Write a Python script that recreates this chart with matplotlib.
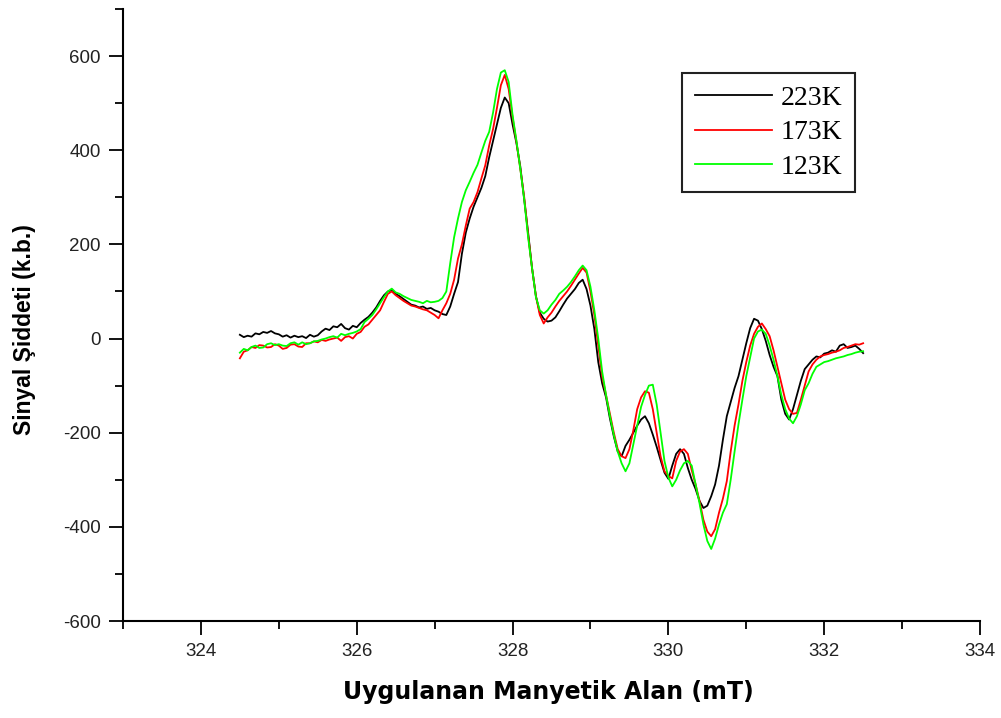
import numpy as np
import matplotlib
matplotlib.use("Agg")
import matplotlib.pyplot as plt
from matplotlib.ticker import MultipleLocator

plt.rcParams["axes.unicode_minus"] = False

# ================================================================
# DATA (0.05 mT step, 324.50 -> 332.50)
# ================================================================
FIELD = np.linspace(324.5, 332.5, 161)

# one row = 1 mT (20 points), last value = 332.50
SIG_223K = [
    8, 3, 6, 4, 11, 9, 14, 12, 16, 11, 9, 4, 7, 2, 6, 3, 5, 1, 8, 4,
    7, 15, 21, 18, 26, 24, 31, 22, 19, 27, 24, 33, 40, 46, 55, 66, 80, 92, 100, 103,
    95, 90, 84, 78, 72, 70, 66, 68, 63, 65, 60, 57, 52, 50, 68, 95, 120, 180, 225, 255,
    280, 300, 320, 345, 385, 420, 455, 490, 512, 500, 455, 415, 365, 295, 225, 150, 90, 55, 42, 36,
    38, 45, 58, 72, 85, 95, 105, 118, 125, 105, 70, 20, -50, -95, -125, -170, -208, -240, -250, -228,
    -215, -200, -185, -172, -165, -180, -204, -230, -258, -285, -298, -270, -245, -235, -245, -275, -300, -320, -345, -360,
    -355, -335, -310, -270, -215, -165, -135, -105, -80, -45, -10, 22, 42, 38, 20, -5, -35, -60, -80, -130,
    -160, -172, -150, -120, -90, -65, -55, -45, -38, -40, -32, -30, -25, -28, -15, -12, -20, -18, -15, -22,
    -31,
]

SIG_173K = [
    -42, -28, -25, -18, -20, -14, -15, -19, -18, -12, -15, -22, -20, -13, -12, -17, -18, -10, -10, -6,
    -8, -3, -5, -2, 0, 2, -5, 3, 5, 0, 10, 14, 25, 30, 40, 50, 60, 78, 95, 100,
    92, 86, 80, 75, 70, 68, 65, 62, 60, 55, 50, 43, 60, 75, 95, 125, 170, 200, 240, 276,
    290, 311, 340, 368, 410, 445, 490, 538, 560, 530, 470, 418, 360, 300, 220, 150, 90, 50, 32, 45,
    55, 68, 80, 90, 100, 112, 125, 138, 150, 140, 100, 50, -15, -80, -120, -160, -200, -235, -250, -254,
    -235, -195, -150, -125, -112, -115, -150, -200, -250, -282, -292, -297, -260, -240, -235, -245, -280, -310, -345, -385,
    -410, -420, -405, -370, -340, -303, -240, -185, -140, -90, -50, -15, 10, 25, 32, 20, 5, -25, -60, -95,
    -130, -150, -160, -158, -130, -100, -70, -55, -45, -38, -35, -33, -30, -28, -25, -20, -18, -15, -12, -13,
    -10,
]

SIG_123K = [
    -30, -22, -25, -18, -15, -20, -19, -12, -10, -14, -12, -15, -16, -10, -8, -13, -8, -12, -10, -6,
    -5, -2, 0, 3, 5, 2, 10, 7, 10, 12, 15, 20, 35, 42, 50, 62, 75, 88, 100, 106,
    98, 95, 90, 86, 82, 80, 78, 75, 80, 77, 78, 80, 86, 100, 160, 215, 255, 290, 315, 333,
    352, 369, 395, 420, 439, 480, 530, 565, 570, 545, 475, 420, 360, 295, 215, 150, 88, 60, 53, 60,
    72, 82, 95, 102, 110, 120, 132, 145, 155, 145, 110, 60, 0, -70, -120, -165, -205, -240, -265, -282,
    -265, -225, -185, -145, -120, -100, -98, -140, -200, -260, -295, -314, -300, -280, -265, -260, -270, -310, -350, -395,
    -430, -447, -425, -395, -370, -352, -300, -240, -182, -130, -80, -40, 0, 15, 19, 10, -15, -45, -80, -120,
    -150, -170, -180, -165, -140, -110, -95, -75, -60, -55, -50, -48, -45, -42, -40, -38, -35, -33, -30, -28,
    -27,
]

LABELS = ["223K", "173K", "123K"]
COLORS = ["#000000", "#ff0000", "#00ff00"]

# ================================================================
# FIGURE
# ================================================================
fig = plt.figure(figsize=(10.01, 7.18), dpi=100)
ax = fig.add_axes([123 / 1001, 97 / 718, 857 / 1001, 612 / 718])

for sig, lab, col in zip([SIG_223K, SIG_173K, SIG_123K], LABELS, COLORS):
    ax.plot(FIELD, sig, color=col, lw=1.3, label=lab)

ax.set_xlim(323, 334)
ax.set_ylim(-600, 700)
ax.xaxis.set_major_locator(MultipleLocator(2))
ax.xaxis.set_minor_locator(MultipleLocator(1))
ax.yaxis.set_major_locator(MultipleLocator(200))
ax.yaxis.set_minor_locator(MultipleLocator(100))

for s in ["top", "right"]:
    ax.spines[s].set_visible(False)
for s in ["left", "bottom"]:
    ax.spines[s].set_linewidth(1.5)

ax.tick_params(which="major", direction="out", length=10, width=1.3, pad=6,
               labelsize=13.5, labelcolor="#222222")
ax.tick_params(which="minor", direction="out", length=5.5, width=1.3)
for t in ax.get_xticklabels() + ax.get_yticklabels():
    t.set_family("Liberation Sans")

fig.text(548 / 1001, 1 - 692 / 718, "Uygulanan Manyetik Alan (mT)",
         ha="center", va="center", fontsize=17, fontweight="bold", family="DejaVu Sans")
fig.text(25 / 1001, 1 - 330 / 718, "Sinyal Şiddeti (k.b.)", rotation=90,
         ha="center", va="center", fontsize=16.5, fontweight="bold", family="Liberation Sans")

leg = ax.legend(loc="upper left", bbox_to_anchor=(682 / 1001, 1 - 73 / 718),
                bbox_transform=fig.transFigure, borderaxespad=0, fancybox=False,
                prop={"family": "Liberation Serif", "size": 20},
                handlelength=2.8, handletextpad=0.3, labelspacing=0.32, borderpad=0.45)
leg.get_frame().set_edgecolor("#222222")
leg.get_frame().set_linewidth(1.5)
leg.get_frame().set_alpha(1)

plt.savefig("out.png", dpi=100)
